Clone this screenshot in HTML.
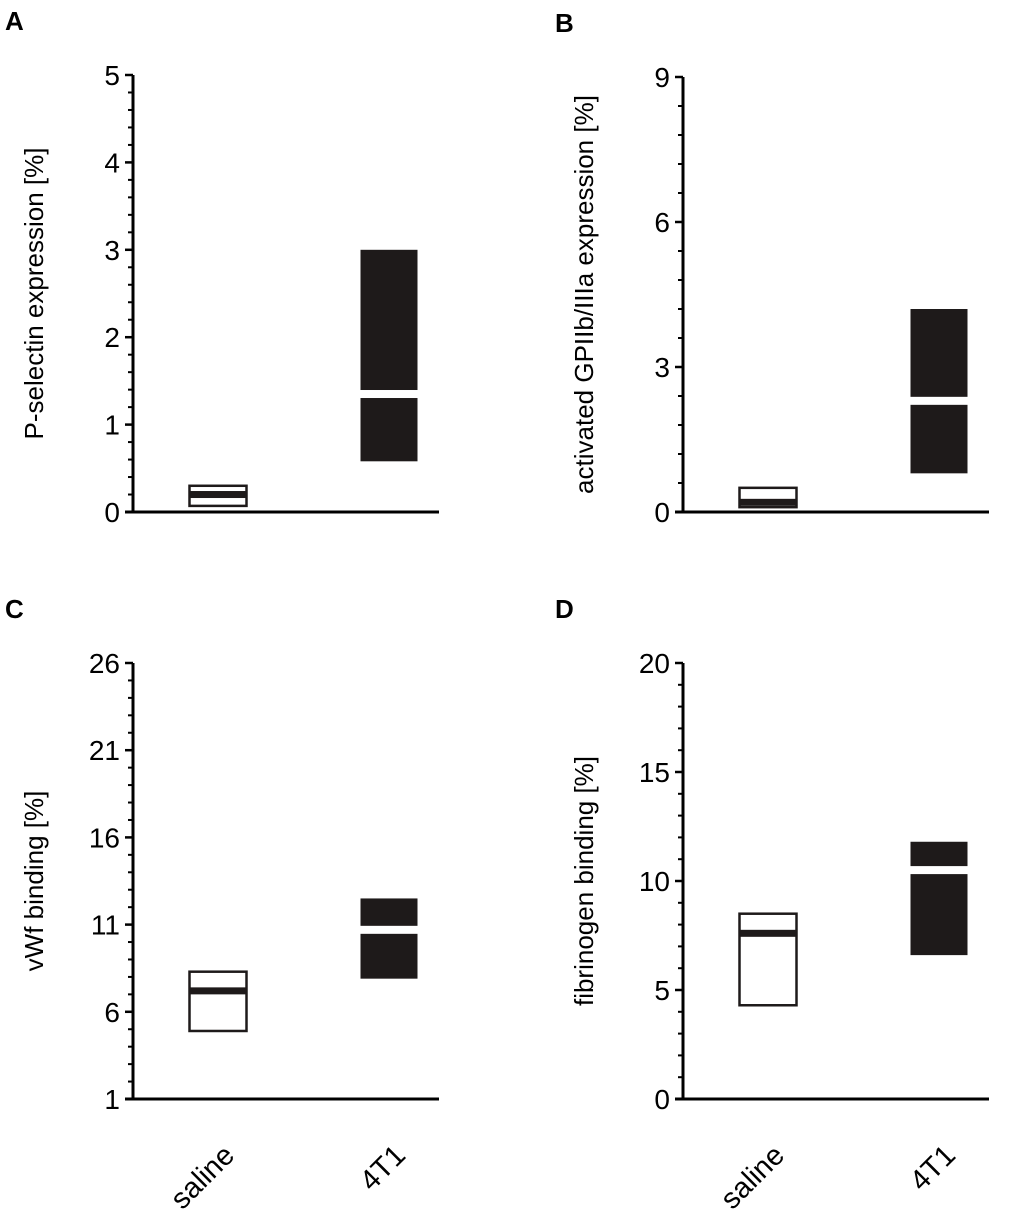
<!DOCTYPE html>
<html><head><meta charset="utf-8"><style>
body{margin:0;background:#fff}
svg{display:block;font-family:"Liberation Sans",Arial,sans-serif}
</style></head><body>
<svg id="fig" width="1020" height="1217" viewBox="0 0 1020 1217"></svg>
<script>
const categories = ["saline","4T1"];
const panelLetters = ["A","B","C","D"];
const yTitles = ["P-selectin expression [%]","activated GPIIb/IIIa expression [%]","vWf binding [%]","fibrinogen binding [%]"];
const yTicksA = [0,1,2,3,4,5];
const yTicksB = [0,3,6,9];
const yTicksC = [1,6,11,16,21,26];
const yTicksD = [0,5,10,15,20];
// [low, median, high] per category
const boxA = [[0.07,0.2,0.3],[0.58,1.35,3.0]];
const boxB = [[0.1,0.2,0.5],[0.8,2.3,4.2]];
const boxC = [[4.9,7.2,8.3],[7.9,10.7,12.5]];
const boxD = [[4.3,7.6,8.5],[6.6,10.5,11.8]];

const NS="http://www.w3.org/2000/svg";
const svg=document.getElementById('fig');
function mk(tag,attrs,parent){const e=document.createElementNS(NS,tag);for(const k in attrs)e.setAttribute(k,attrs[k]);(parent||svg).appendChild(e);return e;}

function panel(ox,top,bottom,ticks,minorPer,boxes,letter,title,lx,showX){
  const g=mk('g',{});
  
  
  const ymin=ticks[0],ymax=ticks[ticks.length-1];
  const y=v=>bottom-(v-ymin)/(ymax-ymin)*(bottom-top);
  const xc=[ox+85,ox+256];
  const L=mk('text',{x:lx,y:top-45,'font-size':26,'font-weight':'bold'},g);L.textContent=letter;
  
  
  const ax=mk('line',{x1:ox,y1:top,x2:ox,y2:bottom,stroke:'#000','stroke-width':3},g);
  
  
  const xa=mk('line',{x1:ox-8,y1:bottom,x2:ox+306,y2:bottom,stroke:'#000','stroke-width':3},g);
  
  
  for(let i=0;i<ticks.length;i++){
    const t=ticks[i];
    mk('line',{x1:ox-8,y1:y(t),x2:ox,y2:y(t),stroke:'#000','stroke-width':2.5},g);
    const tl=mk('text',{x:ox-13,y:y(t)+10,'font-size':28,'text-anchor':'end'},g);tl.textContent=t;
    
    
    if(i<ticks.length-1){const step=(ticks[i+1]-t)/minorPer;
      for(let k=1;k<minorPer;k++) mk('line',{x1:ox-5,y1:y(t+k*step),x2:ox,y2:y(t+k*step),stroke:'#000','stroke-width':2},g);}
  }
  const cy=(top+bottom)/2;
  const tx=ox-90;
  const tt=mk('text',{x:tx,y:cy,'font-size':26,'text-anchor':'middle',transform:`rotate(-90 ${tx} ${cy})`},g);
  tt.textContent=title;
  
  
  boxes.forEach((b,i)=>{
    const w=57,x0=xc[i]-w/2;
    if(i===0){
      const r=mk('rect',{x:x0,y:y(b[2]),width:w,height:y(b[0])-y(b[2]),fill:'#fff',stroke:'#1e1a1a','stroke-width':2.5},g);
      
      
      const m=mk('rect',{x:x0,y:y(b[1])-3.5,width:w,height:7,fill:'#1e1a1a'},g);
      
      
    } else {
      const r=mk('rect',{x:x0,y:y(b[2]),width:w,height:y(b[0])-y(b[2]),fill:'#1e1a1a'},g);
      
      
      const m=mk('rect',{x:x0,y:y(b[1])-4,width:w,height:8,fill:'#fff'},g);
      
      
    }
    if(showX){
      const px=xc[i]+18,py=bottom+58;
      const xl=mk('text',{x:px,y:py,'font-size':29,'text-anchor':'end',transform:`rotate(-45 ${px} ${py})`},g);
      xl.textContent=categories[i];
      
      
    }
  });
}
panel(133,75,512,yTicksA,5,boxA,panelLetters[0],yTitles[0],5,false);
panel(683,77,512,yTicksB,5,boxB,panelLetters[1],yTitles[1],555,false);
panel(133,663,1099,yTicksC,5,boxC,panelLetters[2],yTitles[2],5,true);
panel(683,663,1099,yTicksD,5,boxD,panelLetters[3],yTitles[3],555,true);
</script>
</body></html>
